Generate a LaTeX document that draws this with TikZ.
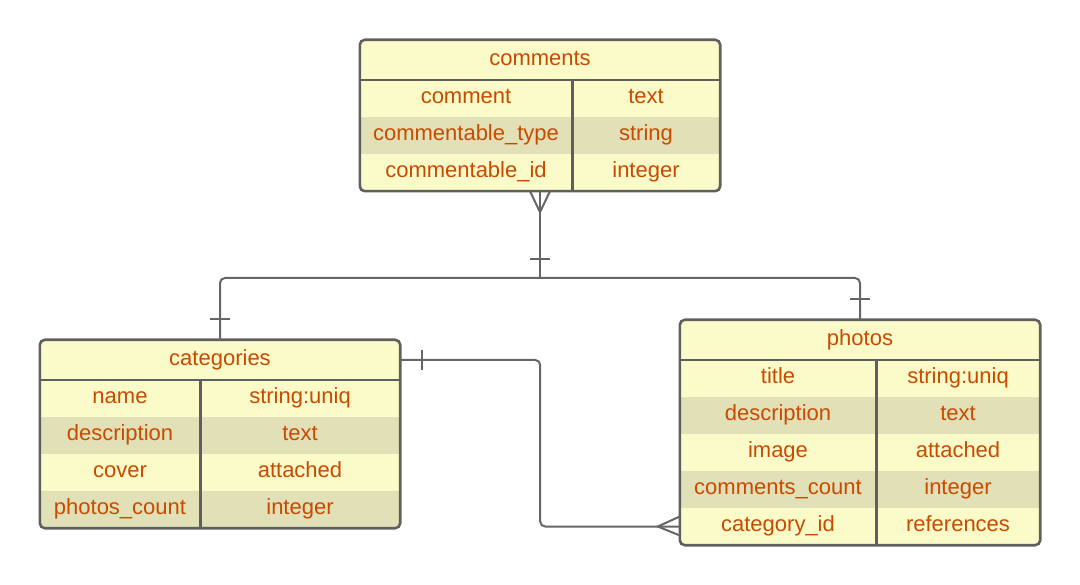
\documentclass[tikz,border=0pt]{standalone}
\usepackage{fontspec}
\setmainfont{Liberation Sans}
\usetikzlibrary{calc}
\definecolor{fillA}{HTML}{FBFAC9}
\definecolor{fillB}{HTML}{E1E0B7}
\definecolor{txt}{HTML}{C84B00}
\definecolor{edge}{HTML}{5F5F5F}
\definecolor{conn}{HTML}{666666}
\tikzset{
 tblfill/.style={fill=fillA, rounded corners=5pt, inner sep=0pt},
 cell/.style={text=txt, font=\fontsize{22}{26}\selectfont, inner sep=0pt, minimum height=37pt, text height=0.7em, text depth=0.04em,
   execute at begin node={\lower1.8pt\hbox\bgroup}, execute at end node={\egroup}},
 head/.style={cell, minimum height=40pt},
 stripe/.style={fill=fillB},
 rule/.style={draw=edge, line width=2.6pt},
 link/.style={draw=conn, line width=2pt},
}
\begin{document}
\begin{tikzpicture}[x=1pt,y=-1pt]
\useasboundingbox (0,0) rectangle (1080,585);

% ---------- comments ----------
\node[tblfill, minimum width=360pt, minimum height=151pt] (comments) at (540,115.5) {};
\begin{scope}
\clip[rounded corners=5pt] (comments.north west) rectangle (comments.south east);
\fill[stripe] (360,117) rectangle (720,154);
\end{scope}
\node[head, minimum width=360pt] (cmh) at (540,60) {comments};
\node[cell, minimum width=212pt] (cm1a) at (466,98.5) {comment};
\node[cell, minimum width=148pt] (cm1b) at (646,98.5) {text};
\node[cell, minimum width=212pt] (cm2a) at (466,135.5) {commentable\_type};
\node[cell, minimum width=148pt] (cm2b) at (646,135.5) {string};
\node[cell, minimum width=212pt] (cm3a) at (466,172.5) {commentable\_id};
\node[cell, minimum width=148pt] (cm3b) at (646,172.5) {integer};
\draw[rule] (cmh.south west) -- (cmh.south east);
\draw[rule] (cm1a.north east) -- (cm3a.south east);
\draw[rule, rounded corners=5pt] (comments.north west) rectangle (comments.south east);

% ---------- categories ----------
\node[tblfill, minimum width=360pt, minimum height=188pt] (categories) at (220,434) {};
\begin{scope}
\clip[rounded corners=5pt] (categories.north west) rectangle (categories.south east);
\fill[stripe] (40,417) rectangle (400,454);
\fill[stripe] (40,491) rectangle (400,528);
\end{scope}
\node[head, minimum width=360pt] (cath) at (220,360) {categories};
\node[cell, minimum width=160pt] (ca1a) at (120,398.5) {name};
\node[cell, minimum width=200pt] (ca1b) at (300,398.5) {string:uniq};
\node[cell, minimum width=160pt] (ca2a) at (120,435.5) {description};
\node[cell, minimum width=200pt] (ca2b) at (300,435.5) {text};
\node[cell, minimum width=160pt] (ca3a) at (120,472.5) {cover};
\node[cell, minimum width=200pt] (ca3b) at (300,472.5) {attached};
\node[cell, minimum width=160pt] (ca4a) at (120,509.5) {photos\_count};
\node[cell, minimum width=200pt] (ca4b) at (300,509.5) {integer};
\draw[rule] (cath.south west) -- (cath.south east);
\draw[rule] (ca1a.north east) -- (ca4a.south east);
\draw[rule, rounded corners=5pt] (categories.north west) rectangle (categories.south east);

% ---------- photos ----------
\node[tblfill, minimum width=360pt, minimum height=225pt] (photos) at (860,432.5) {};
\begin{scope}
\clip[rounded corners=5pt] (photos.north west) rectangle (photos.south east);
\fill[stripe] (680,397) rectangle (1040,434);
\fill[stripe] (680,471) rectangle (1040,508);
\end{scope}
\node[head, minimum width=360pt] (ph) at (860,340) {photos};
\node[cell, minimum width=196pt] (p1a) at (778,378.5) {title};
\node[cell, minimum width=164pt] (p1b) at (958,378.5) {string:uniq};
\node[cell, minimum width=196pt] (p2a) at (778,415.5) {description};
\node[cell, minimum width=164pt] (p2b) at (958,415.5) {text};
\node[cell, minimum width=196pt] (p3a) at (778,452.5) {image};
\node[cell, minimum width=164pt] (p3b) at (958,452.5) {attached};
\node[cell, minimum width=196pt] (p4a) at (778,489.5) {comments\_count};
\node[cell, minimum width=164pt] (p4b) at (958,489.5) {integer};
\node[cell, minimum width=196pt] (p5a) at (778,526.5) {category\_id};
\node[cell, minimum width=164pt] (p5b) at (958,526.5) {references};
\draw[rule] (ph.south west) -- (ph.south east);
\draw[rule] (p1a.north east) -- (p5a.south east);
\draw[rule, rounded corners=5pt] (photos.north west) rectangle (photos.south east);

% ---------- connectors ----------
\coordinate (hub) at (540,278);
\draw[link] (comments.south) -- (hub);
\draw[link, rounded corners=5pt] (cath.north) |- (hub) -| (ph.north);
% crow's foot at comments
\draw[link] ($(comments.south)+(-10,0)$) -- ($(comments.south)+(0,21)$) -- ($(comments.south)+(10,0)$);
% one bars
\draw[link] ($(comments.south)+(-10,68)$) -- ++(20,0);
\draw[link] ($(cath.north)+(-10,-21)$) -- ++(20,0);
\draw[link] ($(ph.north)+(-10,-21)$) -- ++(20,0);

% categories -> photos
\draw[link, rounded corners=5pt] (cath.east) -- ++(140,0) |- (p5a.west);
\draw[link] ($(cath.east)+(22,-10)$) -- ++(0,20);
\draw[link] ($(p5a.west)+(0,-10)$) -- ($(p5a.west)+(-22,0)$) -- ($(p5a.west)+(0,9)$);
\end{tikzpicture}
\end{document}
